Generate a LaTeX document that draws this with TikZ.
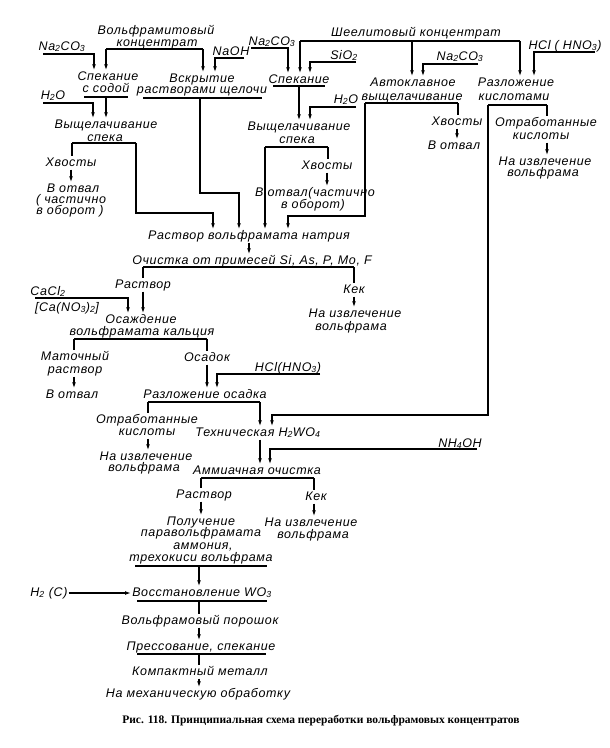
\documentclass[tikz,border=0pt]{standalone}
\usepackage{fontspec}
\setmainfont{Liberation Sans}[LetterSpace=5]
\newfontfamily\capfont{Liberation Serif}
\usetikzlibrary{arrows.meta}
\newcommand\subs[1]{\textsubscript{#1}}
\begin{document}
\begin{tikzpicture}[x=1pt,y=-1pt,
  lbl/.style={inner sep=1pt,text height=8.5pt,text depth=2.5pt,font={\fontsize{12.5}{13}\selectfont\itshape}},
  capt/.style={inner sep=1pt,font={\fontsize{11.5}{13}\capfont\bfseries}},
  ln/.style={line width=1.3pt},
  arr/.style={line width=1.3pt,-{Latex[length=6pt,width=3.8pt]}},
]
\fill[white] (0,0) rectangle (610,748);
\useasboundingbox (0,0) rectangle (610,748);

% ---- Wolframite branch
\node[lbl] (wolA) at (156,31) {Вольфрамитовый};
\node[lbl] (wolB) at (157,43) {концентрат};
\coordinate (wolL) at (106,49); \coordinate (wolR) at (203,49);
\node[lbl] (naA) at (62,47) {Na\subs2CO\subs3};
\coordinate (naAL) at (43,54); \coordinate (naAR) at (94,54);
\node[lbl] (naoh) at (231,52) {NaOH};
\coordinate (naohL) at (215,58); \coordinate (naohR) at (244,58);
\node[lbl] (spkA) at (108,77) {Спекание};
\node[lbl] (spkB) at (106,89) {с содой};
\coordinate (spkL) at (84,97); \coordinate (spkM) at (106,97); \coordinate (spkR) at (128,97);
\node[lbl] (vskA) at (202,79) {Вскрытие};
\node[lbl] (vskB) at (202,90) {растворами щелочи};
\coordinate (vskL) at (143,98); \coordinate (vskM) at (200,98); \coordinate (vskR) at (262,98);
\coordinate (vskK) at (200,193); \coordinate (vskK2) at (239,193);
\node[lbl] (h2oA) at (53,96) {H\subs2O};
\coordinate (h2oAL) at (43,103); \coordinate (h2oAR) at (93,103);
\node[lbl] (vyA) at (106,125) {Выщелачивание};
\node[lbl] (vyB) at (105,138) {спека};
\coordinate (vyL) at (72,143); \coordinate (vyR) at (136,143);
\coordinate (vyK) at (136,213); \coordinate (vyK2) at (213,213);
\node[lbl] (hvA) at (71,163) {Хвосты};
\node[lbl] (otA1) at (73,189) {В отвал};
\node[lbl] (otA2) at (71,200) {( частично};
\node[lbl] (otA3) at (70,211) {в оборот )};

% ---- Scheelite branch
\node[lbl] (sch) at (416,33) {Шеелитовый концентрат};
\coordinate (schL) at (300,41); \coordinate (schM) at (412,41); \coordinate (schR) at (520,41);
\node[lbl] (naB) at (272,42) {Na\subs2CO\subs3};
\coordinate (naBL) at (251,48); \coordinate (naBR) at (288,48);
\node[lbl] (sio) at (344,56) {SiO\subs2};
\coordinate (sioL) at (310,62); \coordinate (sioR) at (356,62);
\node[lbl] (spC) at (299,80) {Спекание};
\coordinate (spCL) at (273,86); \coordinate (spCM) at (299,86); \coordinate (spCR) at (325,86);
\node[lbl] (h2oB) at (346,100) {H\subs2O};
\coordinate (h2oBL) at (310,107); \coordinate (h2oBR) at (356,107);
\node[lbl] (vyC) at (299,127) {Выщелачивание};
\node[lbl] (vyD) at (297,140) {спека};
\coordinate (vyDL) at (265,147); \coordinate (vyDR) at (328,147);
\node[lbl] (hvB) at (327,166) {Хвосты};
\node[lbl] (otB1) at (315,193) {В отвал(частично};
\node[lbl] (otB2) at (313,205) {в оборот)};
\node[lbl] (naC) at (460,57) {Na\subs2CO\subs3};
\coordinate (naCL) at (423,64); \coordinate (naCR) at (478,64);
\node[lbl] (avA) at (413,83) {Автоклавное};
\node[lbl] (avB) at (412,97) {выщелачивание};
\coordinate (avL) at (365,103); \coordinate (avR) at (458,103);
\coordinate (avK) at (365,216); \coordinate (avK2) at (288,216);
\node[lbl] (hvC) at (457,122) {Хвосты};
\node[lbl] (otC) at (454,146) {В отвал};
\node[lbl] (hclA) at (565,46) {HCl ( HNO\subs3)};
\coordinate (hclAL) at (534,52); \coordinate (hclAR) at (595,52);
\node[lbl] (rzA) at (516,83) {Разложение};
\node[lbl] (rzB) at (514,97) {кислотами};
\coordinate (rzL) at (488,105); \coordinate (rzR) at (547,105);
\coordinate (rzK) at (488,415); \coordinate (rzK2) at (272,415);
\node[lbl] (orA1) at (546,123) {Отработанные};
\node[lbl] (orA2) at (541,136) {кислоты};
\node[lbl] (niA1) at (545,162) {На извлечение};
\node[lbl] (niA2) at (543,173) {вольфрама};

% ---- Common part
\node[lbl] (rsN) at (249,236) {Раствор вольфрамата натрия};
\node[lbl] (och) at (252,261) {Очистка от примесей Si, As, P, Mo, F};
\coordinate (ochL) at (143,267); \coordinate (ochR) at (354,267);
\node[lbl] (rsA) at (143,285) {Раствор};
\node[lbl] (kkA) at (354,290) {Кек};
\node[lbl] (niB1) at (355,314) {На извлечение};
\node[lbl] (niB2) at (351,327) {вольфрама};
\node[lbl] (cacl) at (48,292) {CaCl\subs2};
\coordinate (caclL) at (35,298); \coordinate (caclR) at (128,298);
\node[lbl] (cano) at (67,308) {[Ca(NO\subs3)\subs2]};
\node[lbl] (osA) at (141,320) {Осаждение};
\node[lbl] (osB) at (142,332) {вольфрамата кальция};
\coordinate (osL) at (74,339); \coordinate (osR) at (207,339);
\node[lbl] (maA) at (75,357) {Маточный};
\node[lbl] (maB) at (75,370) {раствор};
\node[lbl] (otD) at (72,395) {В отвал};
\node[lbl] (osd) at (207,358) {Осадок};
\node[lbl] (hclB) at (288,368) {HCl(HNO\subs3)};
\coordinate (hclBL) at (217,374); \coordinate (hclBR) at (320,374);
\node[lbl] (rzo) at (205,395) {Разложение осадка};
\coordinate (rzoL) at (148,402); \coordinate (rzoR) at (260,402);
\node[lbl] (orB1) at (147,420) {Отработанные};
\node[lbl] (orB2) at (147,432) {кислоты};
\node[lbl] (niC1) at (146,457) {На извлечение};
\node[lbl] (niC2) at (144,468) {вольфрама};
\node[lbl] (tech) at (258,433) {Техническая H\subs2WO\subs4};
\node[lbl] (nh) at (460,444) {NH\subs4OH};
\coordinate (nhL) at (270,449); \coordinate (nhR) at (477,449);
\node[lbl] (amm) at (257,471) {Аммиачная очистка};
\coordinate (amL) at (201,478); \coordinate (amR) at (314,478);
\node[lbl] (rsB) at (204,495) {Раствор};
\node[lbl] (kkB) at (316,497) {Кек};
\node[lbl] (niD1) at (311,523) {На извлечение};
\node[lbl] (niD2) at (313,535) {вольфрама};
\node[lbl] (poA) at (201,522) {Получение};
\node[lbl] (poB) at (201,533) {паравольфрамата};
\node[lbl] (poC) at (203,546) {аммония,};
\node[lbl] (poD) at (201,558) {трехокиси вольфрама};
\coordinate (poL) at (135,566); \coordinate (poM) at (199,566); \coordinate (poR) at (267,566);
\node[lbl] (h2c) at (49,593) {H\subs2 (C)};
\node[lbl] (vos) at (202,593) {Восстановление WO\subs3};
\coordinate (vosL) at (137,601); \coordinate (vosM) at (199,601); \coordinate (vosR) at (267,601);
\node[lbl] (por) at (200,621) {Вольфрамовый порошок};
\node[lbl] (prs) at (201,647) {Прессование, спекание};
\coordinate (prsL) at (137,654); \coordinate (prsM) at (199,654); \coordinate (prsR) at (266,654);
\node[lbl] (kmp) at (200,672) {Компактный металл};
\node[lbl] (mex) at (198,694) {На механическую обработку};
\node[capt] (cap) at (321,721) {Рис. 118. Принципиальная схема переработки вольфрамовых концентратов};

% ---- connectors, wolframite
\draw[ln] (wolL) -- (wolR);
\draw[arr] (wolL) -- (wolL |- spkA.north);
\draw[arr] (wolR) -- (wolR |- vskA.north);
\draw[arr] (naAL) -- (naAR) -- (naAR |- spkA.north);
\draw[arr] (naohR) -- (naohL) -- (naohL |- vskA.north);
\draw[ln] (spkL) -- (spkR);
\draw[arr] (spkM) -- (spkM |- vyA.north);
\draw[arr] (h2oAL) -- (h2oAR) -- (h2oAR |- vyA.north);
\draw[ln] (vskL) -- (vskR);
\draw[arr] (vskM) -- (vskK) -- (vskK2) -- (vskK2 |- rsN.north);
\draw[ln] (vyL) -- (vyR);
\draw[ln] (vyL) -- (vyL |- hvA.north);
\draw[arr] (vyR) -- (vyK) -- (vyK2) -- (vyK2 |- rsN.north);
\draw[arr] (hvA.south) -- (hvA.south |- otA1.north);

% ---- connectors, scheelite
\draw[ln] (schL) -- (schR);
\draw[arr] (schL) -- (schL |- spC.north);
\draw[arr] (schM) -- (schM |- avA.north);
\draw[arr] (schR) -- (schR |- rzA.north);
\draw[arr] (naBL) -- (naBR) -- (naBR |- spC.north);
\draw[arr] (sioR) -- (sioL) -- (sioL |- spC.north);
\draw[ln] (spCL) -- (spCR);
\draw[arr] (spCM) -- (spCM |- vyC.north);
\draw[arr] (h2oBR) -- (h2oBL) -- (h2oBL |- vyC.north);
\draw[ln] (vyDL) -- (vyDR);
\draw[ln] (vyDR) -- (vyDR |- hvB.north);
\draw[arr] (vyDL) -- (vyDL |- rsN.north);
\draw[arr] (hvB.south) -- (hvB.south |- otB1.north);
\draw[arr] (naCR) -- (naCL) -- (naCL |- avA.north);
\draw[ln] (avL) -- (avR);
\draw[ln] (avR) -- (avR |- hvC.north);
\draw[arr] (avL) -- (avK) -- (avK2) -- (avK2 |- rsN.north);
\draw[arr] (hvC.south) -- (hvC.south |- otC.north);
\draw[arr] (hclAR) -- (hclAL) -- (hclAL |- rzA.north);
\draw[ln] (rzL) -- (rzR);
\draw[ln] (rzR) -- (rzR |- orA1.north);
\draw[arr] (rzL) -- (rzK) -- (rzK2) -- (rzK2 |- tech.north);
\draw[arr] (rzR |- orA2.south) -- (rzR |- niA1.north);

% ---- connectors, common
\draw[arr] (rsN.south) -- (rsN.south |- och.north);
\draw[ln] (ochL) -- (ochR);
\draw[ln] (ochL) -- (ochL |- rsA.north);
\draw[arr] (rsA.south) -- (rsA.south |- osA.north);
\draw[ln] (ochR) -- (ochR |- kkA.north);
\draw[arr] (kkA.south) -- (kkA.south |- niB1.north);
\draw[arr] (caclL) -- (caclR) -- (caclR |- osA.north);
\draw[ln] (osL) -- (osR);
\draw[ln] (osL) -- (osL |- maA.north);
\draw[ln] (osR) -- (osR |- osd.north);
\draw[arr] (osL |- maB.south) -- (osL |- otD.north);
\draw[arr] (osd.south) -- (osd.south |- rzo.north);
\draw[arr] (hclBR) -- (hclBL) -- (hclBL |- rzo.north);
\draw[ln] (rzoL) -- (rzoR);
\draw[ln] (rzoL) -- (rzoL |- orB1.north);
\draw[arr] (rzoR) -- (rzoR |- tech.north);
\draw[arr] (rzoL |- orB2.south) -- (rzoL |- niC1.north);
\draw[arr] (rzoR |- tech.south) -- (rzoR |- amm.north);
\draw[arr] (nhR) -- (nhL) -- (nhL |- amm.north);
\draw[ln] (amL) -- (amR);
\draw[ln] (amL) -- (amL |- rsB.north);
\draw[ln] (amR) -- (amR |- kkB.north);
\draw[arr] (amL |- rsB.south) -- (amL |- poA.north);
\draw[arr] (amR |- kkB.south) -- (amR |- niD1.north);
\draw[ln] (poL) -- (poR);
\draw[arr] (poM) -- (poM |- vos.north);
\draw[arr] (h2c.east) -- (h2c.east -| vos.west);
\draw[ln] (vosL) -- (vosR);
\draw[ln] (vosM) -- (vosM |- por.north);
\draw[arr] (vosM |- por.south) -- (vosM |- prs.north);
\draw[ln] (prsL) -- (prsR);
\draw[ln] (prsM) -- (prsM |- kmp.north);
\draw[arr] (prsM |- kmp.south) -- (prsM |- mex.north);
\end{tikzpicture}
\end{document}
